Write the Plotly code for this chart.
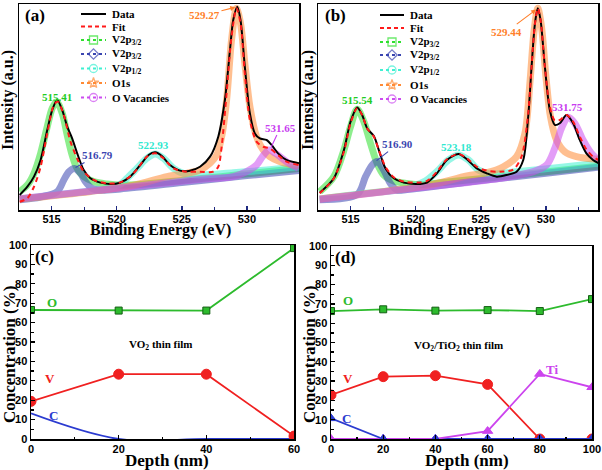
import plotly.graph_objects as go

W, H = 602, 470
TIMES = "Liberation Serif"
ARIAL = "Liberation Sans"

# ---------------- panel (a): XPS of VO2 film ----------------
A_DATA_E = [512.55, 513.14, 513.65, 514.16, 514.67, 515.05, 515.43, 515.82, 516.20, 516.58, 516.97, 517.47, 517.98, 518.75, 519.51, 520.28, 521.04, 521.81, 522.45, 522.96, 523.47, 524.10, 524.87, 525.63, 526.40, 527.17, 527.80, 528.31, 528.70, 528.95, 529.26, 529.51, 529.84, 530.23, 530.61, 530.99, 531.50, 531.89, 532.39, 533.03, 534.00]
A_DATA_I = [7.3, 11.3, 16.2, 24.3, 38.8, 48.5, 53.4, 48.5, 40.5, 34.8, 27.5, 19.4, 15.4, 13.3, 12.6, 13.3, 16.2, 21.8, 26.7, 28.0, 26.2, 21.8, 19.1, 19.1, 21.0, 25.9, 35.6, 53.4, 77.7, 92.2, 98.7, 92.2, 69.6, 46.9, 37.2, 34.8, 34.0, 31.6, 27.5, 24.3, 22.7]
A_FIT_E = [512.55, 513.14, 513.65, 514.16, 514.67, 515.18, 515.48, 515.94, 516.45, 516.96, 517.47, 518.24, 519.26, 520.28, 521.30, 522.32, 522.96, 523.59, 524.36, 525.38, 526.40, 527.42, 527.80, 528.06, 528.44, 528.82, 529.20, 529.51, 529.84, 530.23, 530.74, 531.25, 531.76, 532.39, 533.03, 533.97]
A_FIT_I = [4.0, 5.7, 11.3, 21.0, 37.2, 51.0, 52.6, 46.1, 33.2, 25.1, 18.6, 14.6, 12.9, 13.4, 17.8, 25.9, 27.5, 25.1, 20.2, 18.6, 18.6, 18.6, 21.0, 30.7, 56.6, 84.1, 97.9, 90.6, 66.3, 43.7, 33.2, 30.7, 29.9, 26.7, 23.5, 21.8]
A_V5_E = [512.55, 513.14, 513.65, 514.16, 514.67, 515.05, 515.38, 515.82, 516.20, 516.58, 516.96, 517.47, 518.24, 519.26, 520.28, 522.0, 525.0, 528.0, 531.0, 534.0]
A_V5_I = [8.9, 12.1, 17.8, 27.5, 40.5, 49.4, 52.6, 46.9, 36.4, 26.7, 20.2, 16.2, 13.8, 12.6, 12.0, 12.5, 14.3, 16.2, 18.2, 20.2]
A_V4_E = [512.55, 514.16, 515.43, 515.94, 516.33, 516.76, 517.22, 517.60, 518.11, 518.75, 520.28, 525.0, 530.0, 534.0]
A_V4_I = [5.0, 6.3, 8.9, 14.6, 18.6, 20.2, 17.8, 13.8, 10.5, 9.6, 10.2, 13.3, 16.7, 19.2]
A_V12_E = [512.55, 516.0, 518.75, 519.51, 520.28, 520.79, 521.55, 522.32, 522.96, 523.59, 524.36, 525.12, 526.40, 528.95, 531.50, 533.97]
A_V12_I = [5.4, 7.8, 9.8, 11.0, 12.5, 15.4, 20.2, 25.1, 27.2, 25.1, 20.2, 17.8, 17.0, 18.1, 19.4, 21.0]
A_O1S_E = [512.55, 518.0, 521.30, 523.85, 525.38, 526.40, 527.17, 527.68, 528.06, 528.44, 528.82, 529.20, 529.51, 529.84, 530.23, 530.74, 531.25, 531.76, 532.52, 533.28, 533.97]
A_O1S_I = [5.3, 9.0, 12.0, 16.2, 17.8, 19.4, 22.7, 26.7, 35.6, 53.4, 82.5, 97.9, 90.6, 71.2, 50.2, 35.6, 29.1, 25.9, 23.5, 22.2, 21.5]
A_OV_E = [512.55, 518.75, 526.40, 528.95, 529.97, 530.74, 531.20, 531.70, 532.20, 533.03, 533.97]
A_OV_I = [5.5, 9.7, 14.9, 16.2, 18.6, 21.8, 26.0, 29.1, 27.5, 23.5, 20.2]

# ---------------- panel (b): XPS of VO2/TiO2 film ----------------
B_DATA_E = [512.63, 513.72, 514.49, 515.00, 515.51, 515.89, 516.28, 516.79, 517.17, 517.68, 518.32, 519.08, 520.10, 520.87, 521.63, 522.40, 523.29, 523.93, 524.69, 525.46, 526.22, 526.99, 527.75, 528.26, 528.64, 528.90, 529.16, 529.38, 529.59, 529.92, 530.30, 530.68, 531.07, 531.58, 532.09, 532.60, 533.11, 533.62, 534.05]
B_DATA_I = [8.4, 15.4, 29.1, 42.9, 49.8, 46.1, 39.6, 35.9, 29.1, 20.2, 15.4, 13.3, 12.6, 13.3, 17.8, 24.3, 27.2, 24.6, 20.2, 17.8, 16.2, 17.0, 18.6, 24.3, 45.3, 69.6, 90.6, 97.9, 92.2, 69.6, 48.5, 41.3, 42.1, 46.1, 42.1, 34.0, 27.5, 24.3, 22.7]
B_FIT_E = [512.63, 513.72, 514.49, 515.00, 515.51, 515.89, 516.28, 516.79, 517.17, 517.68, 518.32, 519.08, 520.10, 520.87, 521.63, 522.40, 523.29, 523.93, 524.69, 525.46, 526.48, 527.50, 528.13, 528.64, 528.90, 529.16, 529.38, 529.59, 529.92, 530.30, 530.68, 531.07, 531.58, 532.09, 532.60, 533.11, 533.62, 534.05]
B_FIT_I = [8.1, 15.4, 28.3, 42.1, 49.4, 46.1, 39.6, 35.6, 29.1, 21.0, 15.9, 13.8, 13.3, 14.1, 18.6, 24.6, 27.2, 25.1, 21.0, 19.1, 18.6, 19.7, 25.9, 46.9, 69.6, 90.6, 97.9, 92.2, 69.6, 50.2, 43.4, 43.7, 46.1, 42.9, 35.6, 29.4, 25.9, 24.3]
B_V5_E = [512.63, 513.72, 514.49, 515.00, 515.51, 516.02, 516.53, 517.04, 517.55, 518.32, 519.34, 520.36, 523.0, 526.0, 530.0, 534.05]
B_V5_I = [8.9, 16.2, 29.1, 40.5, 48.9, 42.9, 32.4, 22.7, 17.0, 14.1, 12.9, 12.3, 14.0, 15.8, 18.5, 21.3]
B_V4_E = [512.63, 515.51, 516.15, 516.66, 517.04, 517.55, 518.06, 518.57, 519.34, 525.0, 530.0, 534.05]
B_V4_I = [5.0, 7.5, 16.2, 21.8, 23.5, 19.4, 12.9, 9.7, 9.9, 14.3, 17.8, 20.8]
B_V12_E = [512.63, 516.0, 519.34, 520.10, 520.87, 521.63, 522.52, 523.29, 524.05, 524.82, 525.71, 527.75, 530.30, 534.05]
B_V12_I = [5.4, 8.0, 10.4, 12.2, 14.6, 18.6, 24.3, 26.7, 24.3, 19.4, 17.5, 18.6, 20.2, 22.7]
B_O1S_E = [512.63, 518.0, 521.38, 523.93, 525.46, 526.73, 527.75, 528.39, 528.77, 529.10, 529.38, 529.66, 530.00, 530.35, 530.81, 531.45, 532.34, 534.05]
B_O1S_I = [5.3, 9.3, 12.5, 16.5, 18.1, 21.0, 25.9, 37.2, 61.5, 87.4, 97.9, 89.0, 64.7, 45.3, 34.0, 28.3, 25.9, 24.6]
B_OV_E = [512.63, 519.0, 526.48, 529.03, 530.05, 530.68, 531.19, 531.70, 532.22, 532.85, 533.49, 534.05]
B_OV_I = [5.2, 9.9, 15.4, 18.6, 21.8, 29.9, 39.6, 45.0, 42.1, 34.0, 27.5, 24.3]

# peak labels: (text, label_x, label_y, tip_x, tip_y)  tip None = no arrow
A_PEAKS = [("515.41", 515.43, 55.0, None, None),
           ("516.79", 518.55, 26.7, 516.84, 20.6),
           ("522.93", 522.83, 31.6, None, None),
           ("529.27", 526.74, 94.7, 529.10, 98.4),
           ("531.65", 532.57, 40.0, 531.85, 30.3)]
B_PEAKS = [("515.54", 515.51, 53.4, None, None),
           ("516.90", 518.62, 32.0, 517.00, 24.0),
           ("523.18", 523.16, 30.7, None, None),
           ("529.44", 526.99, 86.6, 529.25, 97.3),
           ("531.75", 531.63, 50.2, None, None)]

# ---------------- panels (c), (d): depth profiles ----------------
C_DEPTH = [0, 20, 40, 60]
C_O = [66.5, 66.2, 66.2, 98.4]
C_V = [19.4, 33.4, 33.4, 1.5]
C_C = [13.2, 0, 0, 0]

D_DEPTH = [0, 20, 40, 60, 80, 100]
D_O = [66.3, 67.2, 66.5, 66.8, 66.3, 72.5]
D_V = [22.8, 32.3, 32.8, 28.3, 0.0, 0.0]
D_C = [10.7, 0, 0, 0, 0, 0]
D_TI = [0, 0, 0, 4.1, 33.7, 26.8]

LEG_LABELS = ["Data", "Fit", "V2p<sub>3/2</sub>", "V2p<sub>3/2</sub>", "V2p<sub>1/2</sub>", "O1s", "O Vacancies"]

GREEN = "#2fe02f"
BLUE = "#3a45b0"
CYAN = "#3ff0d2"
ORANGE = "#ff8a35"
VIOLET = "#cc4cf0"
RED = "#ff1a1a"

def rgba(hexc, a):
    h = hexc.lstrip("#")
    return "rgba(%d,%d,%d,%.2f)" % (int(h[0:2], 16), int(h[2:4], 16), int(h[4:6], 16), a)

fig = go.Figure()

def xps_panel(xa, ya, comps, data, fit):
    for (E, I, col) in comps:
        fig.add_trace(go.Scatter(x=E, y=I, mode="lines", xaxis=xa, yaxis=ya, showlegend=False,
                                 line=dict(color=rgba(col, 0.55), width=7, shape="spline", smoothing=0.9),
                                 hoverinfo="skip"))
    fig.add_trace(go.Scatter(x=data[0], y=data[1], mode="lines", xaxis=xa, yaxis=ya, showlegend=False,
                             line=dict(color="black", width=2, shape="spline", smoothing=0.8)))
    fig.add_trace(go.Scatter(x=fit[0], y=fit[1], mode="lines", xaxis=xa, yaxis=ya, showlegend=False,
                             line=dict(color=RED, width=2, dash="5px,4px", shape="spline", smoothing=0.8)))

xps_panel("x", "y",
          [(A_V5_E, A_V5_I, GREEN), (A_V4_E, A_V4_I, BLUE), (A_V12_E, A_V12_I, CYAN),
           (A_O1S_E, A_O1S_I, ORANGE), (A_OV_E, A_OV_I, VIOLET)],
          (A_DATA_E, A_DATA_I), (A_FIT_E, A_FIT_I))
xps_panel("x2", "y2",
          [(B_V5_E, B_V5_I, GREEN), (B_V4_E, B_V4_I, BLUE), (B_V12_E, B_V12_I, CYAN),
           (B_O1S_E, B_O1S_I, ORANGE), (B_OV_E, B_OV_I, VIOLET)],
          (B_DATA_E, B_DATA_I), (B_FIT_E, B_FIT_I))

# depth profiles
OG, OGE = "#2dbb2d", "#145f14"
VR = "#f02020"
CB = "#2b3bd0"
TV = "#cc44ee"

def depth_trace(x, y, xa, ya, col, sym, size, edge=None, mode="lines+markers", shape="linear"):
    fig.add_trace(go.Scatter(x=x, y=y, mode=mode, xaxis=xa, yaxis=ya, showlegend=False,
                             line=dict(color=col, width=1.8, shape=shape),
                             marker=dict(symbol=sym, size=size, color=col,
                                         line=dict(color=edge or col, width=1))))

depth_trace(C_DEPTH, C_C, "x3", "y3", CB, "circle", 1, mode="lines", shape="spline")
depth_trace(C_DEPTH, C_V, "x3", "y3", VR, "circle", 10)
depth_trace(C_DEPTH, C_O, "x3", "y3", OG, "square", 7, edge=OGE)

depth_trace(D_DEPTH, D_V, "x4", "y4", VR, "circle", 10)
depth_trace(D_DEPTH, D_C, "x4", "y4", CB, "triangle-up", 9)
depth_trace(D_DEPTH, D_TI, "x4", "y4", TV, "triangle-up", 9)
depth_trace(D_DEPTH[1:], D_C[1:], "x4", "y4", CB, "triangle-up", 9, mode="markers")
depth_trace(D_DEPTH, D_O, "x4", "y4", OG, "square", 7, edge=OGE)

# manual legends drawn on a pixel-space overlay axis
LEG_STYLE = [("black", None, "solid"), (RED, None, "dash"), (GREEN, "square-open", "dot"),
             (BLUE, "diamond-open", "dot"), (CYAN, "circle-open", "dot"),
             (ORANGE, "star-open", "dot"), (VIOLET, "circle-open", "dot")]
LEG_A = dict(x0=81, x1=106, tx=110, rows=[14, 26.5, 40, 54, 68.5, 83, 97.5])
LEG_B = dict(x0=380, x1=404, tx=408, rows=[15, 28, 42, 55, 70, 85, 99])

annotations = []

def txt(x, y, s, size=11, color="black", xref="x5", yref="y5", family=TIMES, xanchor="center", angle=0):
    annotations.append(dict(x=x, y=y, xref=xref, yref=yref, text=s, showarrow=False, xanchor=xanchor,
                            yanchor="middle", textangle=angle,
                            font=dict(family=family, size=size, color=color, weight="bold")))

for L in (LEG_A, LEG_B):
    for lab, (col, sym, dash), yy in zip(LEG_LABELS, LEG_STYLE, L["rows"]):
        xm = (L["x0"] + L["x1"]) / 2
        fig.add_trace(go.Scatter(x=[L["x0"], xm, L["x1"]], y=[yy, yy, yy], xaxis="x5", yaxis="y5",
                                 mode="lines+markers" if sym else "lines", showlegend=False, hoverinfo="skip",
                                 cliponaxis=False,
                                 line=dict(color=col, width=2 if dash != "dot" else 2.2,
                                           dash="4px,3px" if dash == "dash" else dash),
                                 marker=dict(symbol=sym or "circle", size=[0, 8, 0], color=col,
                                             line=dict(color=col, width=1.3))))
        txt(L["tx"], yy, lab, size=11, xanchor="left")

PEAK_COL = ["#22cc22", "#3a45b0", "#2fe8cf", "#ff7f2a", "#c83cf0"]
for xa, ya, peaks in (("x", "y", A_PEAKS), ("x2", "y2", B_PEAKS)):
    for (s, lx, ly, tx, ty), col in zip(peaks, PEAK_COL):
        if tx is None:
            txt(lx, ly, s, size=11, color=col, xref=xa, yref=ya)
        else:
            annotations.append(dict(x=tx, y=ty, xref=xa, yref=ya, ax=lx, ay=ly, axref=xa, ayref=ya,
                                    text=s, showarrow=True, arrowhead=2 if s.startswith("529") else 0,
                                    arrowsize=0.9, arrowwidth=1.1, arrowcolor=col,
                                    font=dict(family=TIMES, size=11, color=col, weight="bold")))

# depth-panel labels
txt(4.7, 70.3, "O", 13, OG, "x3", "y3")
txt(4.3, 31.3, "V", 13, VR, "x3", "y3")
txt(5.1, 12.0, "C", 13, CB, "x3", "y3")
txt(29.7, 48.5, "VO<sub>2</sub> thin film", 11, "black", "x3", "y3")
txt(6.5, 71.7, "O", 13, OG, "x4", "y4")
txt(6.5, 31.6, "V", 13, VR, "x4", "y4")
txt(6.0, 10.4, "C", 13, CB, "x4", "y4")
txt(84.5, 35.8, "Ti", 13, TV, "x4", "y4")
txt(48.7, 48.2, "VO<sub>2</sub>/TiO<sub>2</sub> thin film", 11, "black", "x4", "y4")

# panel letters and axis titles (pixel space)
txt(35, 15, "(a)", 17); txt(335, 15, "(b)", 17)
txt(44, 256, "(c)", 17); txt(345, 257, "(d)", 17)
txt(160, 230, "Binding Energy (eV)", 16); txt(459, 230, "Binding Energy (eV)", 16)
txt(8, 100, "Intensity (a.u.)", 16, angle=-90); txt(308, 100, "Intensity (a.u.)", 16, angle=-90)
txt(167, 460, "Depth (nm)", 17); txt(467, 460, "Depth (nm)", 17)
txt(9, 355, "Concentration (%)", 17, angle=-90); txt(309, 355, "Concentration (%)", 17, angle=-90)

def dxr(p0, p1):
    return [p0 / W, p1 / W]

def dyr(p0, p1):
    return [1 - p1 / H, 1 - p0 / H]

TICKF = dict(family=ARIAL, size=11, color="black", weight="bold")
frame = dict(showline=True, mirror=True, linecolor="black", linewidth=1.5, showgrid=False,
             zeroline=False, automargin=False)

xps_x = dict(frame, range=[512.5, 534], tickvals=[515, 520, 525, 530], ticks="inside", ticklen=4,
             tickwidth=1.5, tickcolor="#1f2a80", tickfont=TICKF, ticklabelstandoff=-2,
             minor=dict(tickvals=[517.5, 522.5, 527.5, 532.5], ticks="inside", ticklen=3, tickcolor="#1f2a80", tickwidth=1.2))
xps_y = dict(frame, range=[0, 100], showticklabels=False, ticks="")
dep_y = dict(frame, range=[0, 100], tickvals=list(range(0, 101, 10)), ticks="inside", ticklen=4,
             tickwidth=1.3, tickcolor="black", tickfont=TICKF,
             minor=dict(tickvals=list(range(5, 100, 10)), ticks="inside", ticklen=2.5, tickcolor="black"))

fig.update_layout(
    width=W, height=H, margin=dict(l=0, r=0, t=0, b=0, autoexpand=False),
    paper_bgcolor="white", plot_bgcolor="rgba(0,0,0,0)", showlegend=False,
    xaxis=dict(xps_x, domain=dxr(19, 299), anchor="y"),
    yaxis=dict(xps_y, domain=dyr(4, 210), anchor="x"),
    xaxis2=dict(xps_x, domain=dxr(318, 598), anchor="y2"),
    yaxis2=dict(xps_y, domain=dyr(4, 210), anchor="x2"),
    xaxis3=dict(frame, domain=dxr(31, 294), anchor="y3", range=[0, 60], tickvals=[0, 20, 40, 60],
                ticks="inside", ticklen=4, tickwidth=1.3, tickcolor="black", tickfont=TICKF, ticklabelstandoff=-1,
                minor=dict(tickvals=[10, 30, 50], ticks="inside", ticklen=2.5, tickcolor="black")),
    yaxis3=dict(dep_y, domain=dyr(245, 439), anchor="x3"),
    xaxis4=dict(frame, domain=dxr(331, 592), anchor="y4", range=[0, 100], tickvals=[0, 20, 40, 60, 80, 100],
                ticks="inside", ticklen=4, tickwidth=1.3, tickcolor="black", tickfont=TICKF, ticklabelstandoff=-1,
                minor=dict(tickvals=[10, 30, 50, 70, 90], ticks="inside", ticklen=2.5, tickcolor="black")),
    yaxis4=dict(dep_y, domain=dyr(246, 439), anchor="x4"),
    xaxis5=dict(domain=[0, 1], range=[0, W], visible=False, anchor="y5", fixedrange=True, automargin=False),
    yaxis5=dict(domain=[0, 1], range=[H, 0], visible=False, anchor="x5", fixedrange=True, automargin=False),
    annotations=annotations,
)

fig.write_html("out.html", config={"displayModeBar": False, "staticPlot": True},
               post_script="document.documentElement.style.margin='0';document.body.style.margin='0';"
                           "document.body.style.overflow='hidden';")
